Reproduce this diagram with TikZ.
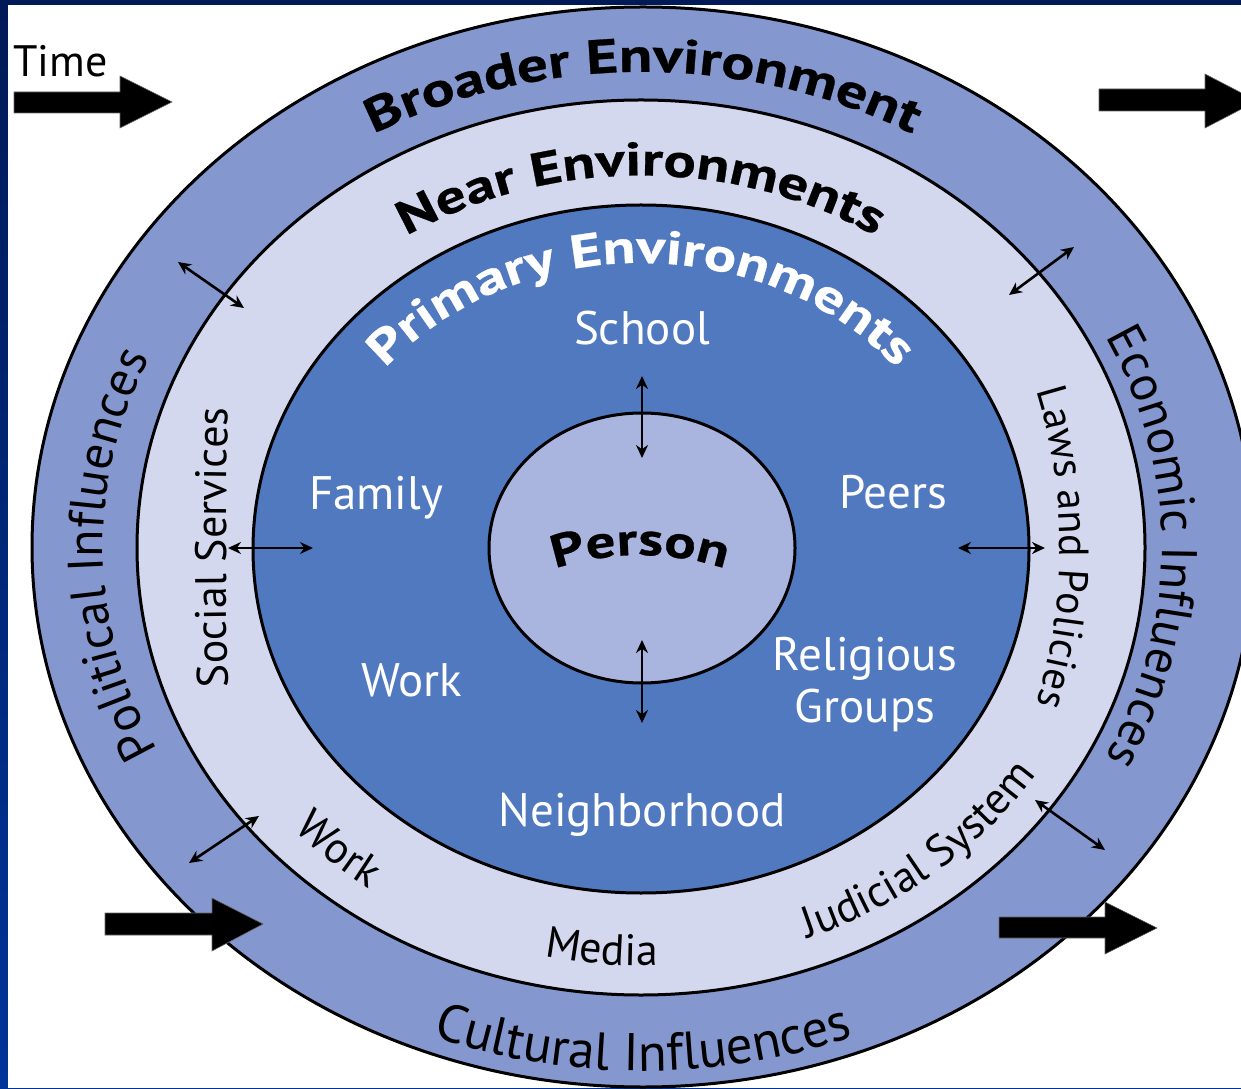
\documentclass[tikz,border=0pt]{standalone}
\usepackage{fontspec}
\setmainfont{PT Sans}
\newfontfamily\headfont{PT Sans}[FakeStretch=1.28,FakeBold=0.6]
\usetikzlibrary{decorations.text,arrows.meta}
\definecolor{outerband}{RGB}{132,151,207}
\definecolor{nearband}{RGB}{212,216,238}
\definecolor{primband}{RGB}{80,121,192}
\definecolor{personfill}{RGB}{169,181,223}
\definecolor{navy}{RGB}{0,26,87}
\definecolor{slideblue}{RGB}{0,51,153}
\begin{document}
\begin{tikzpicture}[x=0.5pt,y=0.5pt,
  ring/.style={draw=black, line width=1.5pt},
  dbl/.style={{Stealth[length=6.5pt,width=6pt]}-{Stealth[length=6.5pt,width=6pt]}, line width=1.3pt},
  blockarrow/.style={fill=black, draw=black!60, line width=0.3pt},
  inlabel/.style={text=white, font=\fontsize{23.5}{28}\selectfont, anchor=base, inner sep=0pt},
  boldtext/.style 2 args={decorate, decoration={text along path, text align=center,
     text={|\headfont\bfseries\fontsize{#1}{#1}\selectfont|#2}}},
  whitebold/.style 2 args={decorate, decoration={text along path, text align=center, text color=white,
     text={|\headfont\bfseries\fontsize{#1}{#1}\selectfont|#2}}},
  outertext/.style 2 args={decorate, decoration={text along path, text align=center,
     text={|\fontsize{#1}{#1}\selectfont|#2}}},
  neartext/.style 2 args={decorate, decoration={text along path, text align=center,
     text={|\fontsize{#1}{#1}\selectfont|#2}}}
]
\useasboundingbox (0,0) rectangle (1241,1088);
\clip (0,0) rectangle (1241,1088);
% slide background
\shade[top color=navy, bottom color=slideblue] (0,0) rectangle (1241,1088);
\fill[white] (8,0) rectangle (1241,1083);

% rings
\path[ring, fill=outerband] (643,541) ellipse[x radius=611, y radius=540];
\path[ring, fill=nearband] (641,540.5) ellipse[x radius=504, y radius=447.5];
\path[ring, fill=primband] (641,539) ellipse[x radius=388, y radius=344];
\path[ring, fill=personfill] (642,540) ellipse[x radius=153, y radius=135];

% broader environment texts
\begin{scope}[shift={(643,541)}]
  \path[boldtext={24}{Broader Environment}] (160:546 and 475) arc[start angle=160, end angle=20, x radius=546, y radius=475];
  \path[outertext={25}{Political Influences}] (212:540 and 464) arc[start angle=212, end angle=150, x radius=540, y radius=464];
  \path[outertext={25}{Economic Influences}] (30:519 and 464) arc[start angle=30, end angle=-30, x radius=519, y radius=464];
  \path[outertext={26.5}{Cultural Influences}] (230:590 and 524) arc[start angle=230, end angle=310, x radius=590, y radius=524];
\end{scope}

% near environment texts
\begin{scope}[shift={(641,540.5)}]
  \path[boldtext={23.5}{Near Environments}] (165:429 and 372) arc[start angle=165, end angle=15, x radius=429, y radius=372];
  \path[neartext={22}{Social Services}] (192:415 and 1400) arc[start angle=192, end angle=168, x radius=415, y radius=1400];
  \path[neartext={21}{Laws and Policies}] (35:419 and 475) arc[start angle=35, end angle=-35, x radius=419, y radius=475];
  \path[neartext={22}{Work}] (203:470 and 418) arc[start angle=203, end angle=253, x radius=470, y radius=418];
  \path[neartext={22}{Media}] (240:470 and 418) arc[start angle=240, end angle=290, x radius=470, y radius=418];
  \path[neartext={22}{Judicial System}] (279:470 and 418) arc[start angle=279, end angle=340, x radius=470, y radius=418];
\end{scope}

% primary environment texts
\begin{scope}[shift={(641,539)}]
  \path[whitebold={23.5}{Primary Environments}] (170:330 and 286) arc[start angle=170, end angle=10, x radius=330, y radius=286];
\end{scope}
\node[inlabel] (school) at (642,743) {School};
\node[inlabel] (family) at (376,578) {Family};
\node[inlabel] (peers) at (893,579) {Peers};
\node[inlabel] (work) at (412,392) {Work};
\node[inlabel] (relig) at (865,418) {Religious};
\node[inlabel] (groups) at (865,366) {Groups};
\node[inlabel] (neigh) at (642,262) {Neighborhood};

% person
\begin{scope}[shift={(640,263)}]
  \path[boldtext={23}{Person}] (125:270) arc[start angle=125, end angle=55, radius=270];
\end{scope}

% time label and arrows
\node[anchor=base west, inner sep=0pt, font=\fontsize{22}{26}\selectfont] (time) at (13,1011) {Time};
\fill[blockarrow] (14,975) -- (120,975) -- (120,960) -- (172,986) -- (120,1012) -- (120,996) -- (14,996) -- cycle;
\fill[blockarrow] (1099,977) -- (1205,977) -- (1205,960) -- (1257,987) -- (1205,1014) -- (1205,999) -- (1099,999) -- cycle;
\fill[blockarrow] (105,153) -- (212,153) -- (212,137) -- (263,164) -- (212,190) -- (212,175) -- (105,175) -- cycle;
\fill[blockarrow] (999,150) -- (1105,150) -- (1105,134) -- (1157,160) -- (1105,186) -- (1105,171) -- (999,171) -- cycle;

% double arrows
\coordinate (ula) at (178,826); \coordinate (ulb) at (244,780);
\coordinate (ura) at (1074,841); \coordinate (urb) at (1009,793);
\coordinate (la) at (228,540); \coordinate (lb) at (313,540);
\coordinate (ra) at (958,540); \coordinate (rb) at (1045,540);
\coordinate (ta) at (642,712); \coordinate (tb) at (642,630);
\coordinate (ba) at (642,448); \coordinate (bb) at (642,365);
\coordinate (bla) at (189,225); \coordinate (blb) at (259,272);
\coordinate (bra) at (1035,288); \coordinate (brb) at (1105,238);
\draw[dbl] (ula) -- (ulb);
\draw[dbl] (ura) -- (urb);
\draw[dbl] (la) -- (lb);
\draw[dbl] (ra) -- (rb);
\draw[dbl] (ta) -- (tb);
\draw[dbl] (ba) -- (bb);
\draw[dbl] (bla) -- (blb);
\draw[dbl] (bra) -- (brb);
\end{tikzpicture}
\end{document}
